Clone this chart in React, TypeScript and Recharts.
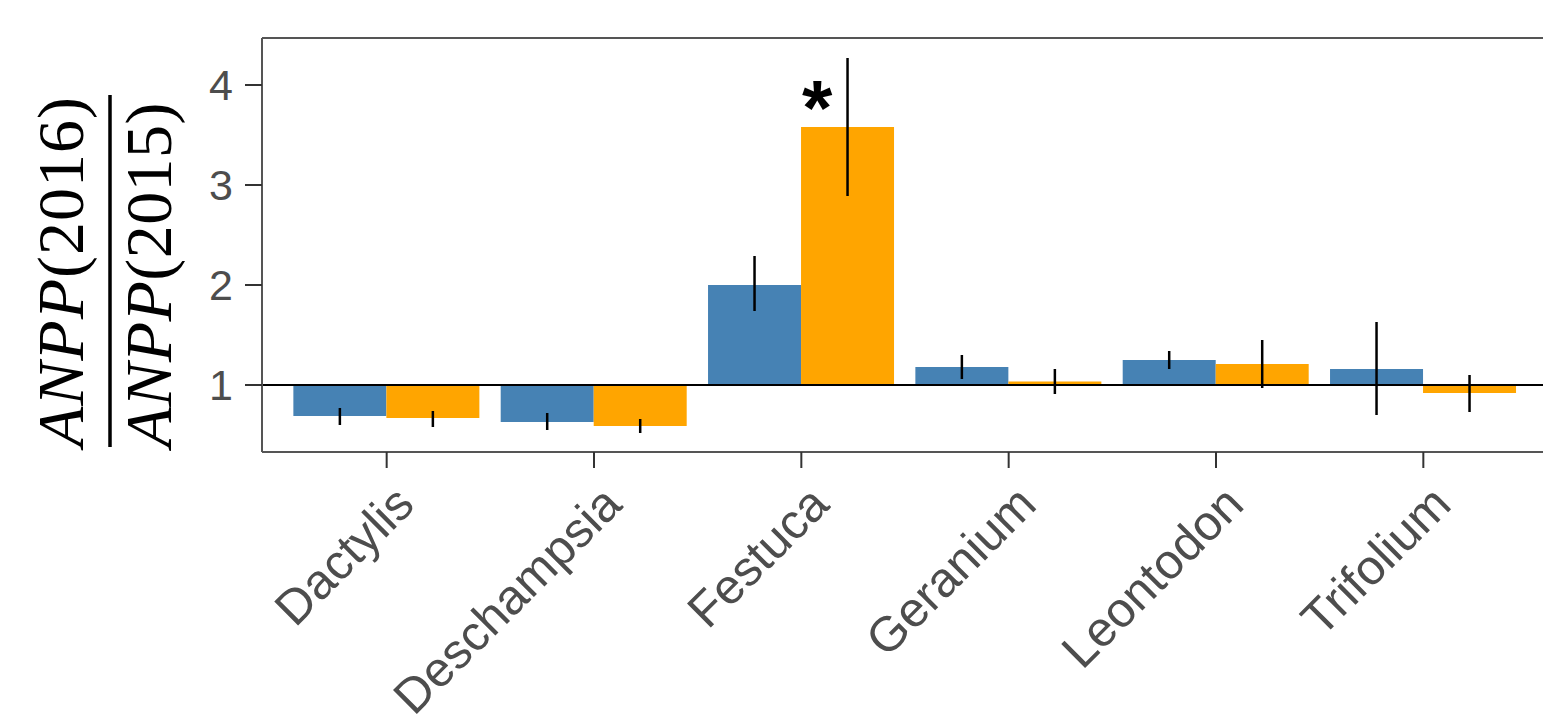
import React from 'react';
import { BarChart, Bar, XAxis, YAxis, ErrorBar, ReferenceLine, LabelList } from 'recharts';

const species = ['Dactylis', 'Deschampsia', 'Festuca', 'Geranium', 'Leontodon', 'Trifolium'];

// blue series
const blueMean = [0.69, 0.63, 2.0, 1.18, 1.25, 1.16];
const blueLow = [0.6, 0.55, 1.74, 1.06, 1.16, 0.7];
const blueHigh = [0.77, 0.72, 2.29, 1.3, 1.34, 1.63];

// orange series
const orangeMean = [0.67, 0.59, 3.58, 1.035, 1.21, 0.92];
const orangeLow = [0.58, 0.52, 2.89, 0.91, 0.97, 0.73];
const orangeHigh = [0.74, 0.66, 4.27, 1.16, 1.45, 1.1];
const orangeSignif = [false, false, true, false, false, false];

const yTicks = [1, 2, 3, 4];
const yMin = 0.33;
const yMax = 4.47;
const base = 1;

const rows = species.map((name, i) => ({
  name,
  blue: [base, blueMean[i]],
  blueErr: [blueMean[i] - blueLow[i], blueHigh[i] - blueMean[i]],
  orange: [base, orangeMean[i]],
  orangeErr: [orangeMean[i] - orangeLow[i], orangeHigh[i] - orangeMean[i]],
  star: orangeSignif[i] ? '*' : '',
}));

const axisGrey = '#555555';
const textGrey = '#4D4D4D';
const sans = '"Liberation Sans", Arial, sans-serif';

const XTick = ({ x, y, payload }: any) => (
  <g transform={`translate(${x + 5},${y + 8})`}>
    <text
      x={0}
      y={0}
      dy="0.72em"
      textAnchor="end"
      transform="rotate(-45)"
      fontSize={49}
      fontFamily={sans}
      fill={textGrey}
    >
      {payload.value}
    </text>
  </g>
);

const FracLabel = () => (
  <g fontFamily='"Liberation Serif", "DejaVu Serif", serif' fill="#000">
    <text x={83} y={272} transform="rotate(-90, 83, 272)" textAnchor="middle" fontSize={66} textLength={350} lengthAdjust="spacing">
      <tspan fontStyle="italic">ANPP</tspan>
      <tspan>(2016)</tspan>
    </text>
    <line x1={110} x2={110} y1={95} y2={447} stroke="#000" strokeWidth={3.5} />
    <text x={171} y={275} transform="rotate(-90, 171, 275)" textAnchor="middle" fontSize={66} textLength={345} lengthAdjust="spacing">
      <tspan fontStyle="italic">ANPP</tspan>
      <tspan>(2015)</tspan>
    </text>
  </g>
);

const Star = (props: any) => {
  const { x, y, value } = props;
  if (!value) return null;
  return (
    <text x={x + 1} y={y + 8} fontSize={78} fontWeight="bold" fontFamily={sans} fill="#000">
      {value}
    </text>
  );
};

export default function App() {
  return (
    <div style={{ position: 'absolute', left: 0, top: 0, width: 1543, height: 719, overflow: 'hidden', background: '#fff' }}>
      <BarChart
        width={1560}
        height={719}
        data={rows}
        margin={{ top: 38, right: 12, left: 0, bottom: 0 }}
        barCategoryGap="5%"
        barGap={0}
      >
        <XAxis
          dataKey="name"
          height={267}
          padding={{ left: 21, right: 21 }}
          tick={<XTick />}
          tickSize={16}
          tickMargin={6}
          axisLine={{ stroke: axisGrey, strokeWidth: 2 }}
          tickLine={{ stroke: '#333', strokeWidth: 2 }}
          interval={0}
        />
        <YAxis
          width={262}
          type="number"
          domain={[yMin, yMax]}
          ticks={yTicks}
          allowDataOverflow
          tickSize={17}
          tickMargin={12}
          axisLine={{ stroke: axisGrey, strokeWidth: 2 }}
          tickLine={{ stroke: '#333', strokeWidth: 2 }}
          tick={{ fontSize: 43, fontFamily: sans, fill: textGrey }}
          label={<FracLabel />}
        />
        <ReferenceLine y={yMax} stroke={axisGrey} strokeWidth={2} />
        <Bar dataKey="blue" fill="#4682B4" isAnimationActive={false}>
          <ErrorBar dataKey="blueErr" width={0} stroke="#000" strokeWidth={2.5} direction="y" />
        </Bar>
        <Bar dataKey="orange" fill="#FFA500" isAnimationActive={false}>
          <ErrorBar dataKey="orangeErr" width={0} stroke="#000" strokeWidth={2.5} direction="y" />
          <LabelList dataKey="star" content={<Star />} />
        </Bar>
        <ReferenceLine y={base} stroke="#000" strokeWidth={2} />
      </BarChart>
    </div>
  );
}
